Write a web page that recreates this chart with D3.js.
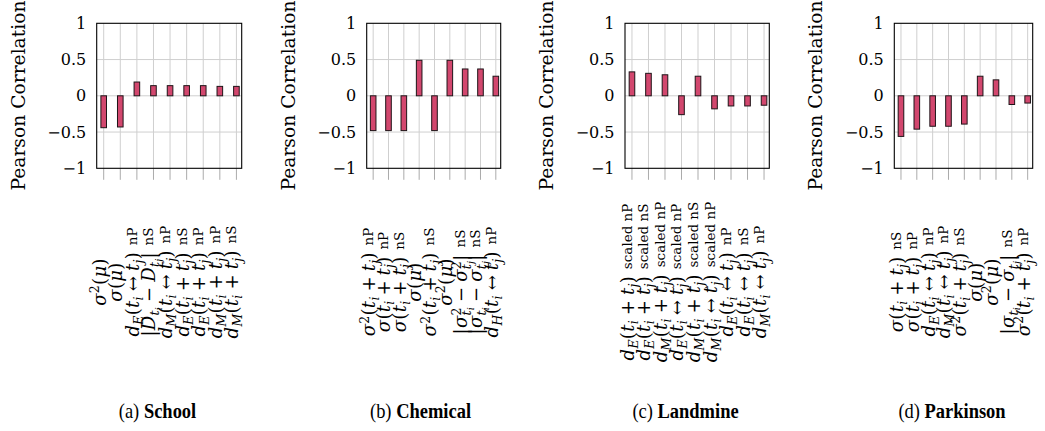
<!DOCTYPE html>
<html>
<head>
<meta charset="utf-8">
<script src="https://cdn.jsdelivr.net/npm/d3@7"></script>
<style>
  html, body { margin: 0; padding: 0; background: #fff; }
  svg { display: block; }
</style>
</head>
<body>
<svg id="chart" width="1045" height="431"></svg>
<script>
// ---- data -------------------------------------------------------------
const panelTags  = ["(a)", "(b)", "(c)", "(d)"];
const panelNames = ["School", "Chemical", "Landmine", "Parkinson"];

const yTicks = [-1, -0.5, 0, 0.5, 1];

// Pearson correlation of each similarity measure
const schoolValues    = [-0.44, -0.43, 0.19, 0.14, 0.14, 0.14, 0.14, 0.13, 0.13];
const chemicalValues  = [-0.48, -0.48, -0.48, 0.49, -0.48, 0.49, 0.37, 0.37, 0.27];
const landmineValues  = [0.33, 0.31, 0.29, -0.26, 0.27, -0.18, -0.14, -0.14, -0.13];
const parkinsonValues = [-0.56, -0.46, -0.42, -0.42, -0.39, 0.27, 0.22, -0.12, -0.10];

// measure names (TeX-like: _ subscript, ^ superscript) and their normalisation
const schoolMeasures = ["σ^2(μ)", "σ(μ)", "d_E(t_i↔t_j)", "|D_{t_i}−D_{t_j}|", "d_M(t_i↔t_j)",
                        "d_E(t_i+t_j)", "d_E(t_i+t_j)", "d_M(t_i+t_j)", "d_M(t_i+t_j)"];
const schoolSuffixes = ["", "", "nP", "nS", "nP", "nS", "nP", "nP", "nS"];

const chemicalMeasures = ["σ^2(t_i+t_j)", "σ(t_i+t_j)", "σ(t_i+t_j)", "σ(μ)", "σ^2(t_i+t_j)",
                          "σ^2(μ)", "|σ^2_{t_i}−σ^2_{t_j}|", "|σ_{t_i}−σ_{t_j}|", "d_H(t_i↔t_j)"];
const chemicalSuffixes = ["nP", "nP", "nS", "", "nS", "", "nS", "nS", "nP"];

const landmineMeasures = ["d_E(t_i+t_j)", "d_E(t_i+t_j)", "d_M(t_i+t_j)", "d_E(t_i↔t_j)", "d_M(t_i+t_j)",
                          "d_M(t_i↔t_j)", "d_E(t_i↔t_j)", "d_E(t_i↔t_j)", "d_M(t_i↔t_j)"];
const landmineSuffixes = ["scaled nP", "scaled nS", "scaled nP", "scaled nP", "scaled nS",
                          "scaled nP", "nP", "nS", "nP"];

const parkinsonMeasures = ["σ(t_i+t_j)", "σ(t_i+t_j)", "d_E(t_i↔t_j)", "d_M(t_i↔t_j)", "σ^2(t_i+t_j)",
                           "σ(μ)", "σ^2(μ)", "|σ_{t_i}−σ_{t_j}|", "σ^2(t_i+t_j)"];
const parkinsonSuffixes = ["nS", "nP", "nP", "nP", "nS", "", "", "nS", "nP"];

const panelValues   = [schoolValues, chemicalValues, landmineValues, parkinsonValues];
const panelMeasures = [schoolMeasures, chemicalMeasures, landmineMeasures, parkinsonMeasures];
const panelSuffixes = [schoolSuffixes, chemicalSuffixes, landmineSuffixes, parkinsonSuffixes];

// ---- layout -----------------------------------------------------------
const frames = [
  { left: 96.7,  right: 241.7,  caption: 157.5 },
  { left: 366.7, right: 500.7,  caption: 420.5 },
  { left: 625.0, right: 769.3,  caption: 685.5 },
  { left: 894.3, right: 1032.7, caption: 952.0 }
];
const plotTop = 23.3, plotBottom = 168.3;
const labelCenterY = 282;
const captionY = 418;

const SERIF = "'DejaVu Serif', serif";
const TIMES = "'Liberation Serif', 'Times New Roman', serif";
const BAR_FILL = "#d2476e";
const GRID = "#cfcfcf";

// math typesetting sizes: base, first-level script, second-level script
const MATH_SIZES = [18, 12.5, 9.5];
const SUB_SHIFT = [4, 2.5];
const SUP_SHIFT = [-6.5, -4];
const LETTER_SPACING = 0.3;

const svg = d3.select("#chart");

const isLetter = ch => /[A-Za-z\u03b1-\u03c9]/.test(ch);
const isBinOp = ch => "+−↔".includes(ch);
const glyphWidth = (ch, size) => (/[0-9]/.test(ch) ? 0.636 : 0.55) * size + LETTER_SPACING;

// turn a TeX-like string into positioned glyphs {ch, shift, size, dx}
function layoutMath(str, baseShift = 0, level = 0) {
  const items = [];
  let i = 0;
  let prevScript = null, prevScriptWidth = 0;
  while (i < str.length) {
    const c = str[i];
    if (c === "_" || c === "^") {
      let body;
      if (str[i + 1] === "{") {
        const end = str.indexOf("}", i + 2);
        body = str.slice(i + 2, end);
        i = end + 1;
      } else {
        body = str[i + 1];
        i += 2;
      }
      const lv = Math.min(level, 1);
      const shift = baseShift + (c === "_" ? SUB_SHIFT[lv] : SUP_SHIFT[lv]);
      const inner = layoutMath(body, shift, level + 1);
      // a subscript directly after a superscript stacks under it
      if (prevScript && prevScript !== c && inner.length) inner[0].dx = -prevScriptWidth;
      items.push(...inner);
      prevScript = c;
      prevScriptWidth = d3.sum(inner.filter(d => d.shift === shift), d => glyphWidth(d.ch, d.size));
    } else {
      items.push({ ch: c, shift: baseShift, size: MATH_SIZES[Math.min(level, 2)], dx: 0 });
      prevScript = null;
      i += 1;
    }
  }
  return items;
}

// rotated tick label: italic math followed by an upright normalisation tag
function drawTickLabel(g, x, measure, suffix) {
  const text = g.append("text")
    .attr("transform", `translate(${x},${labelCenterY}) rotate(-90)`)
    .attr("text-anchor", "middle")
    .attr("font-family", SERIF)
    .attr("fill", "#000");

  let shift = 0;  // current baseline offset
  layoutMath(measure).forEach(d => {
    const t = text.append("tspan")
      .attr("font-size", d.size)
      .attr("letter-spacing", LETTER_SPACING)
      .attr("dy", d.shift - shift)
      .text(isBinOp(d.ch) ? "\u2005" + d.ch + "\u2005" : d.ch);
    if (d.dx) t.attr("dx", d.dx);
    if (isLetter(d.ch)) t.attr("font-style", "italic");
    shift = d.shift;
  });
  if (suffix) {
    text.append("tspan")
      .attr("font-size", 13.5)
      .attr("dy", -2 - shift)
      .text("\u2002" + suffix);
  }
}

frames.forEach((f, p) => {
  const values = panelValues[p];
  const measures = panelMeasures[p];
  const suffixes = panelSuffixes[p];
  const g = svg.append("g");

  const x = d3.scalePoint()
    .domain(d3.range(values.length))
    .range([f.left, f.right])
    .padding(0.37)
    .align(0.57);
  const y = d3.scaleLinear().domain([-1, 1]).range([plotBottom, plotTop]);

  // vertical grid lines, continued below the frame as tick marks
  g.selectAll(".vgrid").data(d3.range(values.length)).join("line")
    .attr("x1", d => x(d)).attr("x2", d => x(d))
    .attr("y1", plotTop).attr("y2", plotBottom)
    .attr("stroke", GRID).attr("stroke-width", 1);
  g.selectAll(".vtick").data(d3.range(values.length)).join("line")
    .attr("x1", d => x(d)).attr("x2", d => x(d))
    .attr("y1", plotBottom).attr("y2", plotBottom + 11.5)
    .attr("stroke", "#ababab").attr("stroke-width", 1);

  // horizontal grid lines
  g.selectAll(".hgrid").data(yTicks.slice(1, -1)).join("line")
    .attr("x1", f.left).attr("x2", f.right)
    .attr("y1", d => y(d)).attr("y2", d => y(d))
    .attr("stroke", GRID).attr("stroke-width", 1);

  // y axis tick labels
  const yAxis = d3.axisLeft(y).tickValues(yTicks).tickSize(0).tickPadding(10.5)
    .tickFormat(d3.format("~g"));
  const ya = g.append("g").attr("transform", `translate(${f.left},0)`).call(yAxis);
  ya.select(".domain").remove();
  ya.selectAll("text")
    .attr("font-family", SERIF).attr("font-size", 16).attr("fill", "#000");

  // bars
  const barW = 5.6;
  g.selectAll(".bar").data(values).join("rect")
    .attr("x", (d, i) => x(i) - barW / 2)
    .attr("y", d => y(Math.max(0, d)))
    .attr("width", barW)
    .attr("height", d => Math.abs(y(d) - y(0)))
    .attr("fill", BAR_FILL)
    .attr("stroke", "#1e1418")
    .attr("stroke-width", 1);

  // frame
  g.append("rect")
    .attr("x", f.left).attr("y", plotTop)
    .attr("width", f.right - f.left).attr("height", plotBottom - plotTop)
    .attr("fill", "none").attr("stroke", "#000").attr("stroke-width", 1.1);

  // y axis title
  g.append("text")
    .attr("transform", `translate(${f.left - 72},95.5) rotate(-90)`)
    .attr("text-anchor", "middle")
    .attr("font-family", SERIF).attr("font-size", 18.7)
    .text("Pearson Correlation");

  // x tick labels
  measures.forEach((m, i) => drawTickLabel(g, x(i) + 2, m, suffixes[i]));

  // caption (narrow serif face)
  const cap = g.append("text")
    .attr("transform", `translate(${f.caption},${captionY}) scale(0.88,1)`)
    .attr("text-anchor", "middle")
    .attr("font-family", TIMES).attr("font-size", 21);
  cap.append("tspan").text(panelTags[p] + " ");
  cap.append("tspan").attr("font-weight", "bold").text(panelNames[p]);
});
</script>
</body>
</html>
